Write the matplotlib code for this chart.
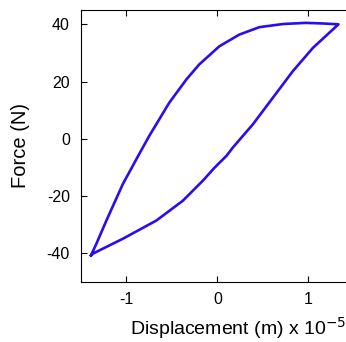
import numpy as np
import matplotlib
matplotlib.use("Agg")
import matplotlib.pyplot as plt

plt.rcParams['font.family'] = ['Liberation Sans', 'DejaVu Sans']
plt.rcParams['axes.unicode_minus'] = False

# displacement in units of 1e-5 m, force in N
# loading branch (lower-left tip up to upper-right tip)
up_x = [-1.39, -1.33, -1.22, -1.04, -0.86, -0.75, -0.53, -0.34, -0.20, 0.02, 0.24, 0.46, 0.72, 0.97, 1.15, 1.33]
up_y = [-40.7, -36.6, -28.5, -15.8, -5.3, 1.0, 12.6, 20.8, 26.0, 32.3, 36.4, 39.0, 40.1, 40.5, 40.3, 40.0]
# unloading branch (upper-right tip back down)
dn_x = [1.33, 1.05, 0.83, 0.61, 0.39, 0.17, 0.10, -0.03, -0.16, -0.38, -0.67, -1.04, -1.37, -1.39]
dn_y = [40.0, 31.8, 23.7, 14.4, 5.1, -3.0, -5.9, -10.0, -14.6, -21.6, -28.5, -34.9, -40.1, -40.7]

x = np.array(up_x + dn_x[1:])
y = np.array(up_y + dn_y[1:])

fig = plt.figure(figsize=(3.46, 3.42), dpi=100)
ax = fig.add_axes([0.234, 0.1754, 0.789, 0.7954])
ax.plot(x, y, color='#2a0cf0', lw=1.9, solid_joinstyle='round')

ax.set_xlim(-1.5, 1.5)
ax.set_ylim(-50, 45)
ax.set_xticks([-1, 0, 1])
ax.set_yticks([-40, -20, 0, 20, 40])
ax.tick_params(direction='in', top=True, right=True, labelsize=11.5, length=4)
ax.tick_params(axis='y', pad=8)
ax.tick_params(axis='x', pad=7)
ax.set_xlabel('Displacement (m) x 10$^{-5}$', fontsize=14, labelpad=6, x=0.18, ha='left')
ax.set_ylabel('Force (N)', fontsize=14.5, labelpad=12)

fig.savefig('out.png', dpi=100)
